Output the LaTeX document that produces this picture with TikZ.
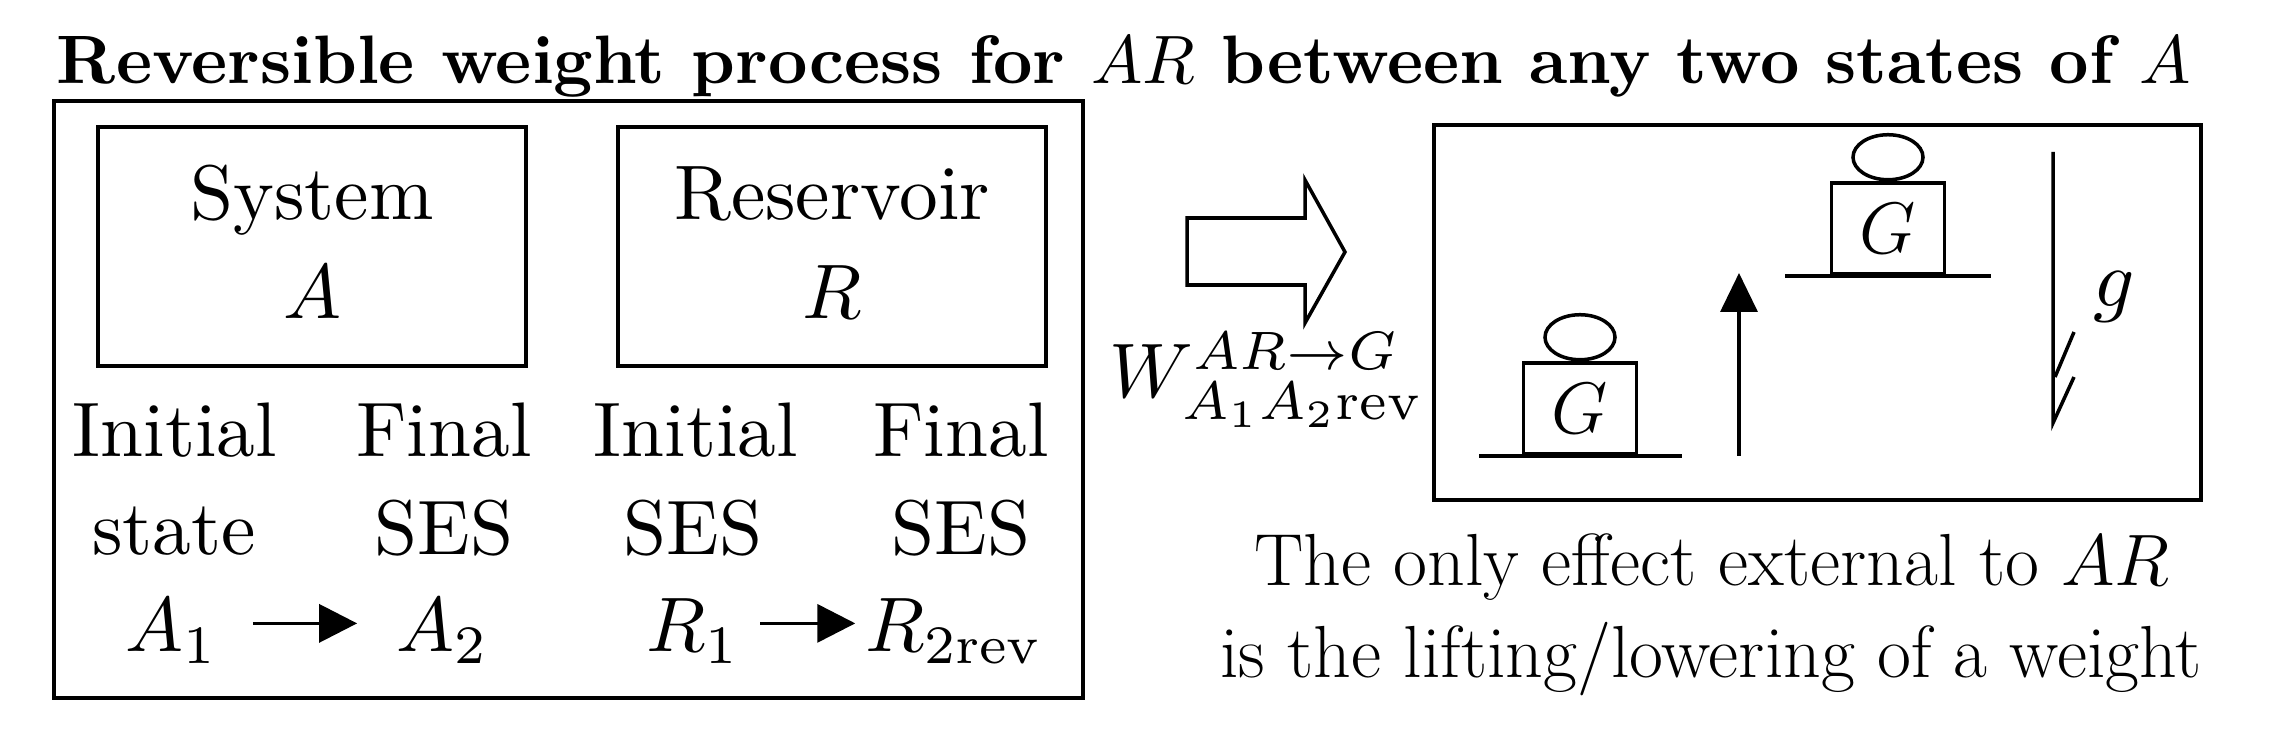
\documentclass[tikz,border=0pt]{standalone}
\usepackage{amsmath}
\usetikzlibrary{arrows.meta,shapes.geometric,positioning}

\begin{document}
\begin{tikzpicture}
	\tikzset{every node/.style={font=\fontsize{10}{12}\selectfont}}
	\tikzset{txt/.style={anchor=base,inner sep=0pt,scale=2.2,transform shape}}
	\tikzset{captxt/.style={anchor=base,inner sep=0pt,font=\fontsize{21}{25}\selectfont}}
	\tikzset{frame/.style={draw,line width=1.3pt}}
	\tikzset{partbox/.style={draw,line width=1.1pt,minimum width=4.28cm,minimum height=2.39cm}}
	\tikzset{weight/.style={draw,line width=1pt,minimum width=1.13cm,minimum height=0.91cm,anchor=south,inner sep=0pt,font=\fontsize{22}{26}\selectfont}}
	\tikzset{knob/.style={draw,line width=1pt,ellipse,minimum width=0.70cm,minimum height=0.45cm,anchor=south,inner sep=0pt}}
	\tikzset{ground/.style={line width=1pt}}
	\tikzset{arr/.style={line width=1pt,-{Triangle[length=3.8mm,width=3.8mm]}}}

	\useasboundingbox (0,0) rectangle (22.71,7.33);

	% title
	\node[txt,scale=1.95/2.2,font=\fontsize{10}{12}\selectfont\bfseries] (title) at (11.24,6.49)
	    {Reversible weight process for $AR$ between any two states of $A$};

	% system and reservoir
	\draw[frame] (0.54,0.35) rectangle (10.83,6.32);
	\node[partbox] (sys) at (3.12,4.865) {};
	\node[partbox] (res) at (8.32,4.865) {};
	\node[txt] (sysname) at (3.12,5.13) {System};
	\node[txt] (sysA) at (3.12,4.14) {$A$};
	\node[txt] (resname) at (8.32,5.13) {Reservoir};
	\node[txt] (resR) at (8.32,4.14) {$R$};

	% states
	\node[txt] (ini1) at (1.75,2.76) {Initial};
	\node[txt] (fin1) at (4.44,2.76) {Final};
	\node[txt] (ini2) at (6.96,2.76) {Initial};
	\node[txt] (fin2) at (9.61,2.76) {Final};
	\node[txt] (st1) at (1.74,1.78) {state};
	\node[txt] (ses1) at (4.44,1.78) {SES};
	\node[txt] (ses2) at (6.93,1.78) {SES};
	\node[txt] (ses3) at (9.61,1.78) {SES};
	\node[txt] (A1) at (1.72,0.81) {$A_1$};
	\node[txt] (A2) at (4.43,0.81) {$A_2$};
	\node[txt] (R1) at (6.93,0.81) {$R_1$};
	\node[txt] (R2) at (9.55,0.81) {$R_{2\mathrm{rev}}$};
	\draw[arr,shorten <=3.3mm,shorten >=3.8mm] ([yshift=0.08cm]A1.east) -- ([yshift=0.08cm]A2.west);
	\draw[arr,shorten <=1.9mm,shorten >=0.9mm] ([yshift=0.08cm]R1.east) -- ([yshift=0.08cm]R2.west);

	% transfer arrow
	\draw[line width=1pt] (11.87,5.15) -- (13.05,5.15) -- (13.05,5.53) -- (13.45,4.81)
	    -- (13.05,4.10) -- (13.05,4.48) -- (11.87,4.48) -- cycle;
	\node[txt] (W) at (12.67,3.35) {$W^{AR\to G}_{A_1A_2\mathrm{rev}}$};

	% weight in gravity field
	\draw[frame] (14.34,2.33) rectangle (22.01,6.08);
	\coordinate (gl1) at (14.79,2.77);
	\coordinate (gr1) at (16.82,2.77);
	\draw[ground] (gl1) -- (gr1);
	\node[weight] (G1) at (15.80,2.77) {$G$};
	\node[knob] (k1) at (G1.north) {};
	\coordinate (gl2) at (17.85,4.57);
	\coordinate (gr2) at (19.91,4.57);
	\draw[ground] (gl2) -- (gr2);
	\node[weight] (G2) at (18.88,4.57) {$G$};
	\node[knob] (k2) at (G2.north) {};
	\coordinate (lift0) at (17.39,2.77);
	\coordinate (lift1) at (17.39,4.60);
	\draw[line width=1pt,-{Triangle[length=3.9mm,width=3.7mm]}] (lift0) -- (lift1);
	\coordinate (g0) at (20.53,5.81);
	\coordinate (g1) at (20.53,3.10);
	\coordinate (g2) at (20.55,3.56);
	\draw[ground] (g0) -- (g1) -- (20.74,3.56);
	\draw[ground] (g2) -- (20.74,4.01);
	\node[txt,scale=2.3/2.2] (glab) at (21.14,4.26) {$g$};
	\node[captxt] (cap1) at (17.12,1.47) {The only effect external to $AR$};
	\node[captxt] (cap2) at (17.11,0.55) {is the lifting/lowering of a weight};
\end{tikzpicture}
\end{document}
